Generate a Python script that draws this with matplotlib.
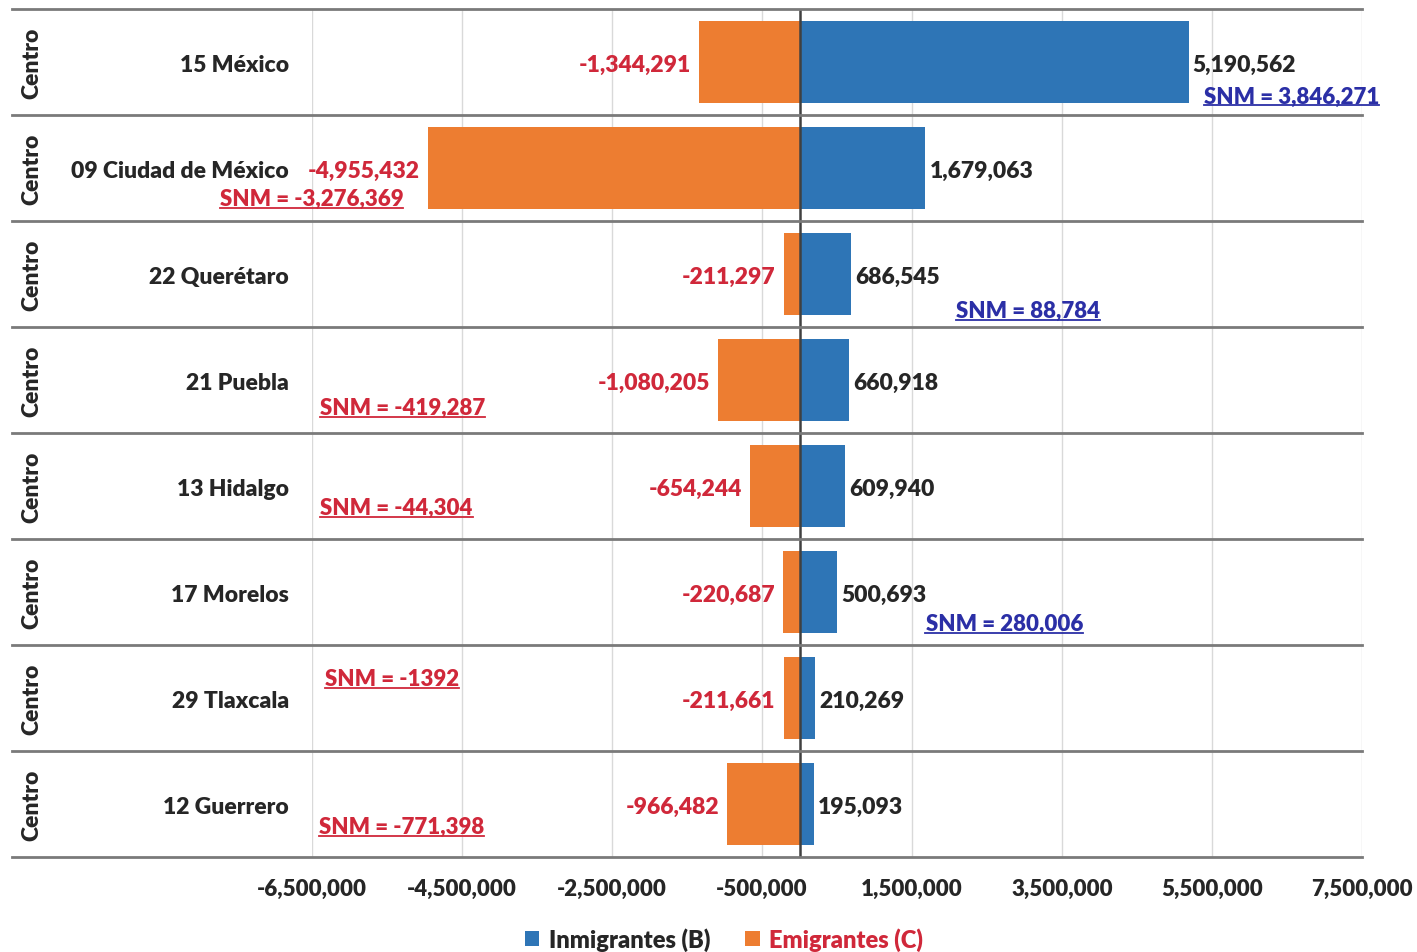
import matplotlib
matplotlib.use("Agg")
import matplotlib.pyplot as plt
from matplotlib.lines import Line2D
from matplotlib.patches import Patch
import matplotlib.transforms as mtransforms

plt.rcParams['font.family'] = ['Lato', 'DejaVu Sans']
WEIGHT = 'heavy'

# ---- data ----
regions = ["Centro"] * 8
states = ["15 México", "09 Ciudad de México", "22 Querétaro", "21 Puebla",
          "13 Hidalgo", "17 Morelos", "29 Tlaxcala", "12 Guerrero"]
inmigrantes = [5190562, 1679063, 686545, 660918, 609940, 500693, 210269, 195093]
emigrantes = [-1344291, -4955432, -211297, -1080205, -654244, -220687, -211661, -966482]
snm_labels = ["SNM = 3,846,271", "SNM = -3,276,369", "SNM = 88,784", "SNM = -419,287",
              "SNM = -44,304", "SNM = 280,006", "SNM = -1392", "SNM = -771,398"]
tick_values = [-6500000, -4500000, -2500000, -500000, 1500000, 3500000, 5500000, 7500000]
tick_labels = ["-6,500,000", "-4,500,000", "-2,500,000", "-500,000",
               "1,500,000", "3,500,000", "5,500,000", "7,500,000"]

# ---- layout for SNM annotations (x in data units, y offset in rows) ----
snm_x = [5.39e6, -7.73e6, 2.09e6, -6.40e6, -6.39e6, 1.68e6, -6.33e6, -6.41e6]
snm_dy = [0.32, 0.29, 0.34, 0.26, 0.20, 0.30, -0.18, 0.21]

BLUE = "#2E75B6"
ORANGE = "#ED7D31"
RED = "#D0283A"
SNM_BLUE = "#2B2FA6"
DARK = "#262626"

W, H = 1417, 953
fig = plt.figure(figsize=(W / 100, H / 100), dpi=100)
fig.patch.set_facecolor("white")
ax = fig.add_axes([312 / W, 1 - 858 / H, 1050 / W, 848 / H])

n = len(states)
y = list(range(n))
ax.barh(y, inmigrantes, height=0.78, color=BLUE, zorder=3)
ax.barh(y, emigrantes, height=0.78, color=ORANGE, zorder=3)

ax.set_xlim(-6500000, 7500000)
ax.set_ylim(n - 0.5, -0.5)
ax.set_xticks(tick_values)
ax.set_xticklabels(tick_labels, fontsize=16, color=DARK, fontweight=WEIGHT)
ax.tick_params(axis='x', length=0, pad=15)
ax.set_yticks([])
for s in ax.spines.values():
    s.set_visible(False)
ax.grid(axis='x', color="#d9d9d9", linewidth=1, zorder=0)
ax.axvline(0, color="#404040", linewidth=1.8, zorder=4)

# row separators
trans = mtransforms.blended_transform_factory(ax.transAxes, ax.transData)
x0 = (12 - 312) / 1050
for k in range(n + 1):
    ax.plot([x0, 1.0], [k - 0.5, k - 0.5], transform=trans, color="#7a7a7a",
            linewidth=2, clip_on=False, zorder=5)

# category labels
for i in range(n):
    ax.text((32 - 312) / 1050, i, regions[i], transform=trans, rotation=90,
            ha='center', va='center', fontsize=16.5, color=DARK, fontweight=WEIGHT)
    ax.text((289 - 312) / 1050, i + 0.02, states[i], transform=trans, ha='right',
            va='center', fontsize=16.5, color=DARK, fontweight=WEIGHT)

# value labels
for i in range(n):
    ax.annotate(f"{inmigrantes[i]:,}", xy=(inmigrantes[i], i + 0.02), xytext=(4, 0),
                textcoords='offset pixels', ha='left', va='center',
                fontsize=16.5, color=DARK, fontweight=WEIGHT, zorder=6)
    ax.annotate(f"{emigrantes[i]:,}", xy=(emigrantes[i], i + 0.02), xytext=(-8, 0),
                textcoords='offset pixels', ha='right', va='center',
                fontsize=16.5, color=RED, fontweight=WEIGHT, zorder=6)

# SNM labels
snm_texts = []
for i in range(n):
    col = RED if "-" in snm_labels[i] else SNM_BLUE
    t = ax.text(snm_x[i], i + snm_dy[i], snm_labels[i], ha='left', va='center',
                fontsize=16, color=col, fontweight=WEIGHT, clip_on=False, zorder=6)
    snm_texts.append((t, col))

# legend
handles = [Patch(facecolor=BLUE, label="Inmigrantes (B)"),
           Patch(facecolor=ORANGE, label="Emigrantes (C)")]
leg = fig.legend(handles=handles, loc='center', bbox_to_anchor=(724 / W, 1 - 940 / H),
                 ncol=2, frameon=False, handlelength=0.6, handleheight=0.6,
                 handletextpad=0.4, columnspacing=1.5,
                 prop={'size': 17, 'weight': WEIGHT})
leg.get_texts()[0].set_color(DARK)
leg.get_texts()[1].set_color(RED)

# underline SNM labels
fig.canvas.draw()
renderer = fig.canvas.get_renderer()
for t, col in snm_texts:
    bb = t.get_window_extent(renderer)
    yline = bb.y0 + 1
    fig.add_artist(Line2D([bb.x0 / W, bb.x1 / W], [yline / H, yline / H],
                          color=col, linewidth=1.3))

fig.savefig("out.png", dpi=100, facecolor="white")
